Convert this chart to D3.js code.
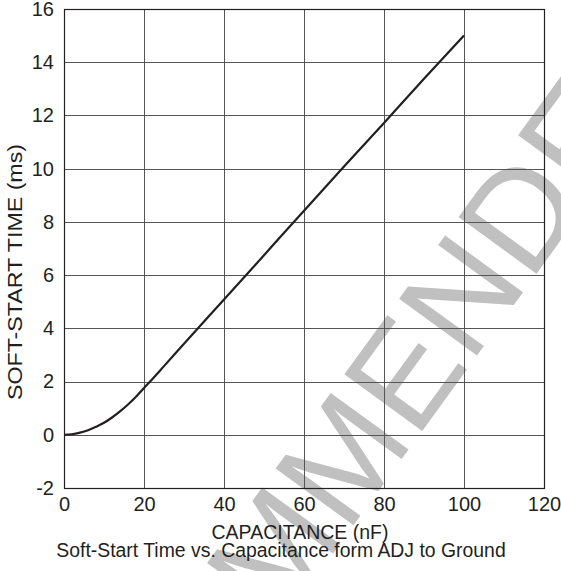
<!DOCTYPE html>
<html>
<head>
<meta charset="utf-8">
<script src="https://cdn.jsdelivr.net/npm/d3@7"></script>
<style>
  body { margin: 0; background: #fff; }
  text { font-family: "Liberation Sans", Arial, sans-serif; fill: #231f20; }
  .grid line { stroke: #555; stroke-width: 1; shape-rendering: crispEdges; }
  .axis path, .axis line { display: none; }
  .axis text { font-size: 20px; }
</style>
</head>
<body>
<svg id="chart" width="561" height="571"></svg>
<script>
// capacitance (nF) and soft-start time (ms)
var capacitance = [0, 2, 4, 6, 8, 10, 12, 14, 16, 18, 20, 22, 25, 30, 40, 50, 60, 70, 80, 90, 100];
var softStart = [0, 0.02, 0.08, 0.17, 0.3, 0.45, 0.65, 0.88, 1.14, 1.43, 1.76, 2.08, 2.58, 3.42, 5.08, 6.75, 8.42, 10.08, 11.72, 13.38, 15.0];

var xTicks = [0, 20, 40, 60, 80, 100, 120];
var yTicks = [-2, 0, 2, 4, 6, 8, 10, 12, 14, 16];

var xLabel = "CAPACITANCE (nF)";
var yLabel = "SOFT-START TIME (ms)";
var title = "Soft-Start Time vs. Capacitance form ADJ to Ground";
var watermark = "RECOMMENDED";

var svgId = "#chart";

var params = {
  "svg": { "width": 561, "height": 571 },
  "margin": { "top": 9, "right": 17, "bottom": 83, "left": 64 }
};

params["plot"] = {
  "x": params.margin.left,
  "y": params.margin.top,
  "width": params.svg.width - params.margin.left - params.margin.right,
  "height": params.svg.height - params.margin.top - params.margin.bottom
};

var translate = function(x, y) { return "translate(" + x + "," + y + ")"; };

var scale = {
  "x": d3.scaleLinear().domain([0, 120]).range([0, params.plot.width]),
  "y": d3.scaleLinear().domain([-2, 16]).range([params.plot.height, 0])
};

// plain hyphen for negatives, like the original
var plain = function(d) { return String(d); };

var svg = d3.select(svgId);

// watermark sits behind everything
svg.append("text")
  .attr("transform", translate(372, 500) + " rotate(-54)")
  .attr("text-anchor", "middle")
  .style("font-size", "140px")
  .style("fill", "#c0c0c0")
  .text(watermark);

var plot = svg.append("g")
  .attr("transform", translate(params.plot.x, params.plot.y));

// grid
var grid = plot.append("g").attr("class", "grid");
grid.selectAll("line.v")
  .data(xTicks)
  .enter()
  .append("line")
  .attr("class", "v")
  .attr("x1", function(d) { return Math.round(scale.x(d)) + 0.5; })
  .attr("x2", function(d) { return Math.round(scale.x(d)) + 0.5; })
  .attr("y1", 0)
  .attr("y2", params.plot.height);

grid.selectAll("line.h")
  .data(yTicks)
  .enter()
  .append("line")
  .attr("class", "h")
  .attr("x1", 0)
  .attr("x2", params.plot.width)
  .attr("y1", function(d) { return Math.round(scale.y(d)) + 0.5; })
  .attr("y2", function(d) { return Math.round(scale.y(d)) + 0.5; });

// frame
plot.append("rect")
  .attr("x", 0.5)
  .attr("y", 0.5)
  .attr("width", params.plot.width)
  .attr("height", params.plot.height)
  .style("fill", "none")
  .style("stroke", "#231f20")
  .style("stroke-width", 1.2);

// axes (labels only)
plot.append("g")
  .attr("class", "axis")
  .attr("transform", translate(0, params.plot.height))
  .call(d3.axisBottom(scale.x).tickValues(xTicks).tickFormat(plain).tickSize(0).tickPadding(9));

plot.append("g")
  .attr("class", "axis")
  .call(d3.axisLeft(scale.y).tickValues(yTicks).tickFormat(plain).tickSize(0).tickPadding(10));

// curve
var points = capacitance.map(function(c, i) { return { "c": c, "t": softStart[i] }; });
var line = d3.line()
  .x(function(d) { return scale.x(d.c); })
  .y(function(d) { return scale.y(d.t); })
  .curve(d3.curveMonotoneX);

plot.append("path")
  .datum(points)
  .attr("d", line)
  .style("fill", "none")
  .style("stroke", "#231f20")
  .style("stroke-width", 2.2);

// axis titles
svg.append("text")
  .attr("text-anchor", "middle")
  .attr("x", 300)
  .attr("y", 539)
  .style("font-size", "19.5px")
  .text(xLabel);

svg.append("text")
  .attr("text-anchor", "middle")
  .attr("transform", translate(22, 272) + " rotate(-90)")
  .attr("textLength", 256)
  .attr("lengthAdjust", "spacingAndGlyphs")
  .style("font-size", "19.5px")
  .text(yLabel);

svg.append("text")
  .attr("text-anchor", "middle")
  .attr("x", 281)
  .attr("y", 557)
  .style("font-size", "19.4px")
  .text(title);
</script>
</body>
</html>
